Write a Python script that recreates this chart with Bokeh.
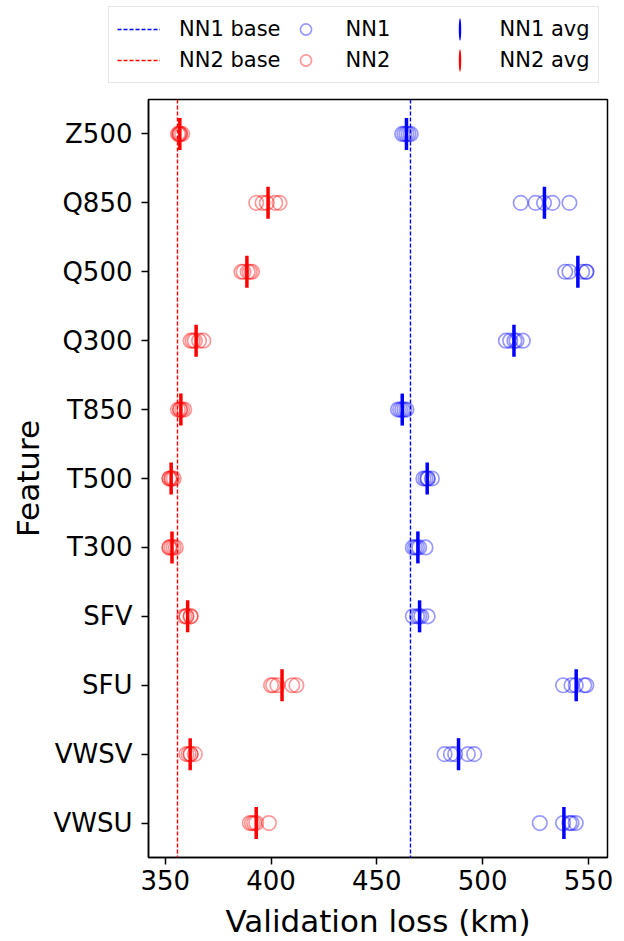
import numpy as np
from bokeh.plotting import figure
from bokeh.layouts import column
from bokeh.models import (Span, Legend, LegendItem, ColumnDataSource, FixedTicker,
                          Range1d, FactorRange)
from bokeh.embed import file_html
from bokeh.resources import INLINE

# ---------------- data ----------------
features = ["Z500", "Q850", "Q500", "Q300", "T850", "T500", "T300",
            "SFV", "SFU", "VWSV", "VWSU"]
nn1_runs = [
    [462, 463, 464, 465, 466],   # Z500
    [518, 525, 529, 533, 541],   # Q850
    [539, 541, 547, 549, 549],   # Q500
    [511, 513, 515, 516, 519],   # Q300
    [460, 461, 462, 463, 464],   # T850
    [472, 473, 474, 474, 476],   # T500
    [467, 468, 469, 470, 473],   # T300
    [467, 469, 470, 471, 474],   # SFV
    [538, 542, 544, 548, 549],   # SFU
    [482, 485, 487, 493, 496],   # VWSV
    [527, 538, 541, 542, 544],   # VWSU
]
nn2_runs = [
    [356, 356.5, 357, 357, 358],  # Z500
    [393, 396, 398, 402, 404],    # Q850
    [386, 387, 389, 390, 391],    # Q500
    [362, 363, 364, 366, 368],    # Q300
    [356, 357, 357, 358, 359],    # T850
    [352, 352, 353, 353, 354],    # T500
    [352, 352, 353, 354, 355],    # T300
    [359, 360, 360, 362, 362],    # SFV
    [400, 401, 403, 410, 412],    # SFU
    [360, 361, 362, 362, 364],    # VWSV
    [390, 391, 392, 393, 399],    # VWSU
]
nn1_base = 465.9
nn2_base = 355.8
x_ticks = [350, 400, 450, 500, 550]

FONT = "DejaVu Sans"
BLUE = "#0000ff"
RED = "#ff0000"
CIRCLE = dict(marker="circle", size=14.5, fill_color=None, line_alpha=0.4, line_width=1.7)
AVG_E = dict(width=3.5, height=32, width_units="screen", height_units="screen", line_color=None)
BASE = dict(line_dash="4 2", line_width=1.4)

# ---------------- main figure ----------------
p = figure(width=616, height=849,
           y_range=FactorRange(factors=features[::-1]),
           x_range=Range1d(342.1, 559.0),
           output_backend="svg", toolbar_location=None,
           min_border_left=148, min_border_right=9, min_border_top=7,
           min_border_bottom=5)
p.frame_align = False

p.xgrid.visible = False
p.ygrid.visible = False
p.outline_line_color = "black"
p.outline_line_width = 1.5
p.outline_line_alpha = 1.0

def pts(runs):
    xs, ys = [], []
    for f, r in zip(features, runs):
        for v in r:
            xs.append(v)
            ys.append(f)
    return ColumnDataSource(dict(x=xs, y=ys))

nn1_src = pts(nn1_runs)
nn2_src = pts(nn2_runs)
avg_src = ColumnDataSource(dict(
    y=features,
    nn1=[float(np.mean(r)) for r in nn1_runs],
    nn2=[float(np.mean(r)) for r in nn2_runs],
))

p.scatter("x", "y", source=nn1_src, line_color=BLUE, **CIRCLE)
p.scatter("x", "y", source=nn2_src, line_color=RED, **CIRCLE)
p.scatter("nn1", "y", source=avg_src, marker="dash", angle=np.pi / 2,
          size=32, line_color=BLUE, line_width=3.5)
p.scatter("nn2", "y", source=avg_src, marker="dash", angle=np.pi / 2,
          size=32, line_color=RED, line_width=3.5)

p.add_layout(Span(location=nn1_base, dimension="height", line_color=BLUE, **BASE))
p.add_layout(Span(location=nn2_base, dimension="height", line_color=RED, **BASE))

for ax in (p.xaxis[0], p.yaxis[0]):
    ax.axis_line_color = "black"
    ax.axis_line_width = 1.5
    ax.major_tick_line_color = "black"
    ax.major_tick_line_width = 1.5
    ax.major_tick_out = 7
    ax.major_tick_in = 0
    ax.minor_tick_line_color = None
    ax.major_label_text_font = FONT
    ax.major_label_text_font_size = "26px"
    ax.major_label_text_color = "black"
    ax.axis_label_text_font = FONT
    ax.axis_label_text_font_size = "31px"
    ax.axis_label_text_font_style = "normal"
    ax.axis_label_text_color = "black"

p.xaxis.ticker = FixedTicker(ticks=x_ticks)
p.xaxis.axis_label = "Validation loss (km)"
p.xaxis.major_label_standoff = 5
p.xaxis.axis_label_standoff = 10
p.yaxis.axis_label = "Feature"
p.yaxis.major_label_standoff = 9
p.yaxis.axis_label_standoff = 4

# ---------------- legend strip above the axes ----------------
lg = figure(width=616, height=92, x_range=Range1d(0, 1), y_range=Range1d(0, 1),
            output_backend="svg", toolbar_location=None, min_border=0)
lg.frame_align = False
lg.axis.visible = False
lg.grid.visible = False
lg.outline_line_color = None

nan2 = [np.nan, np.nan]
r_b1 = lg.line(x=nan2, y=nan2, line_color=BLUE, **BASE)
r_b2 = lg.line(x=nan2, y=nan2, line_color=RED, **BASE)
r_c1 = lg.scatter(x=nan2, y=nan2, line_color=BLUE, **CIRCLE)
r_c2 = lg.scatter(x=nan2, y=nan2, line_color=RED, **CIRCLE)
r_a1 = lg.ellipse(x=nan2, y=nan2, fill_color=BLUE, **AVG_E)
r_a2 = lg.ellipse(x=nan2, y=nan2, fill_color=RED, **AVG_E)

legend = Legend(items=[
    LegendItem(label="NN1 base", renderers=[r_b1]),
    LegendItem(label="NN2 base", renderers=[r_b2]),
    LegendItem(label="NN1", renderers=[r_c1]),
    LegendItem(label="NN2", renderers=[r_c2]),
    LegendItem(label="NN1 avg", renderers=[r_a1]),
    LegendItem(label="NN2 avg", renderers=[r_a2]),
], ncols=3, location=(108, 9), margin=0)
legend.label_text_font = FONT
legend.label_text_font_size = "21px"
legend.label_text_color = "black"
legend.glyph_width = 43
legend.glyph_height = 28
legend.label_standoff = 19
legend.label_width = 89
legend.spacing = 3
legend.padding = 8
legend.border_line_color = "#cccccc"
legend.border_line_width = 1.5
legend.background_fill_color = "white"
legend.background_fill_alpha = 1.0
lg.add_layout(legend)

layout = column(lg, p, spacing=0)
open("out.html", "w").write(file_html(layout, INLINE))
